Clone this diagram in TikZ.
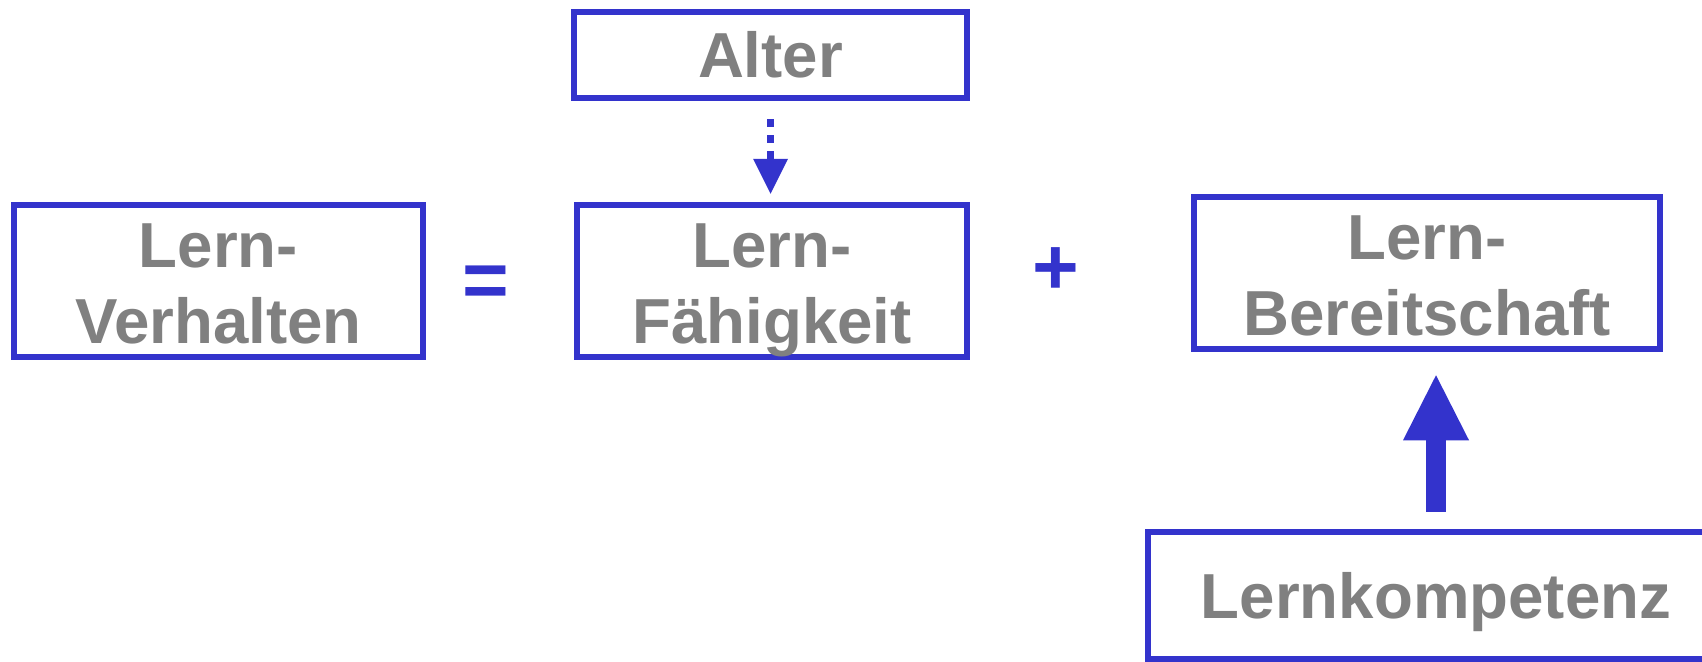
\documentclass[tikz,border=0pt]{standalone}
\usepackage{fontspec}
\setmainfont{Liberation Sans}
\usepackage{tikz}
\usetikzlibrary{arrows.meta}
\definecolor{lblue}{RGB}{51,51,204}
\definecolor{lgray}{RGB}{128,128,128}
% fixed line height so two-line boxes sit alike
\newcommand{\lstrut}{\rule[-0.28cm]{0pt}{1.52cm}}

\begin{document}
\begin{tikzpicture}[
    box/.style={draw=lblue, line width=0.13cm, inner sep=0pt,
      minimum height=2.88cm, align=center, text=lgray,
      font=\bfseries\fontsize{36.2pt}{43.25pt}\selectfont},
    op/.style={inner sep=0pt, text=lblue,
      font=\bfseries\fontsize{45.5pt}{50pt}\selectfont},
    dotarr/.style={-{Triangle[width=0.7cm,length=0.7cm,line width=0pt]}, draw=lblue,
      line width=0.15cm, dash pattern=on 0.16cm off 0.16cm},
    bigarr/.style={-{Triangle[width=1.32cm,length=1.3cm,line width=0pt]}, draw=lblue,
      line width=0.4cm}]
  \useasboundingbox (0,0) rectangle (34.04,-13.22);
  % === Top: Alter ===
  \node[box, minimum width=7.86cm, minimum height=1.72cm] (alter) at (15.41,-1.10) {Alter};
  % === Middle row: Verhalten = Faehigkeit + Bereitschaft ===
  \node[box, minimum width=8.18cm] (verh) at (4.37,-5.62)  {\lstrut Lern-\\\lstrut Verhalten};
  \node[op]                        (eq)   at (9.71,-5.74)  {=};
  \node[box, minimum width=7.80cm] (faeh) at (15.44,-5.62) {\lstrut Lern-\\\lstrut Fähigkeit};
  \node[op]                        (plus) at (21.11,-5.43) {+};
  \node[box, minimum width=9.32cm] (bere) at (28.54,-5.46) {\lstrut Lern-\\\lstrut Bereitschaft};
  % === Bottom: Lernkompetenz ===
  \node[box, minimum width=11.52cm, minimum height=2.54cm, text depth=0pt] (komp) at (28.72,-11.91) {Lernkompetenz};
  % === Arrows ===
  \draw[dotarr, shorten <=0.36cm, shorten >=0.16cm] (alter.south) -- (alter.south |- faeh.north);
  \draw[bigarr, shorten <=0.34cm, shorten >=0.46cm] (komp.north) -- (komp.north |- bere.south);
\end{tikzpicture}
\end{document}
